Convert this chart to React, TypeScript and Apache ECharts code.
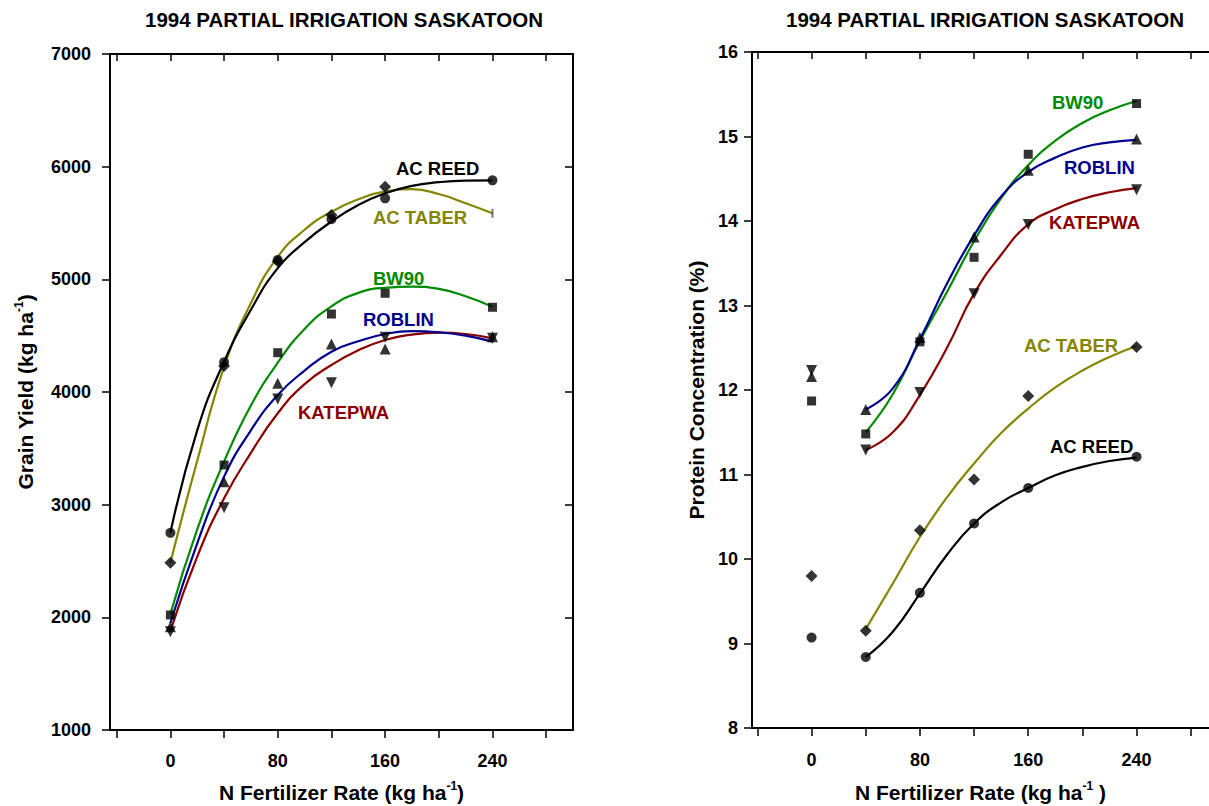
import React, { useEffect, useRef } from "react";
import * as echarts from "echarts";

const FONT = '"Liberation Sans", Arial, Helvetica, sans-serif';

// ---------- data ----------
const rates = [0, 40, 80, 120, 160, 240];
const xTickValues = [-40, 0, 40, 80, 120, 160, 200, 240, 280];
const xLabelValues = [0, 80, 160, 240];

// Grain yield (kg/ha) observed
const yieldReed = [2750, 4265, 5172, 5533, 5719, 5879];
const yieldTaber = [2485, 4231, 5160, 5571, 5822, 5586];
const yieldBW90 = [2021, 3352, 4349, 4692, 4876, 4752];
const yieldRoblin = [1917, 3204, 4077, 4426, 4382, 4490];
const yieldKatepwa = [1873, 2973, 3938, 4083, 4486, 4476];

// Grain yield fitted curves
const fitX = [0, 20, 40, 60, 80, 100, 120, 140, 160, 180, 200, 220, 240];
const fitReedY = [2750, 3660, 4270, 4730, 5100, 5330, 5512, 5660, 5764, 5830, 5862, 5876, 5878];
const fitTaberY = [2485, 3390, 4220, 4790, 5200, 5440, 5600, 5710, 5780, 5800, 5757, 5675, 5586];
const fitBW90Y = [2030, 2780, 3382, 3880, 4260, 4560, 4760, 4880, 4925, 4935, 4915, 4850, 4757];
const fitRoblinY = [1950, 2657, 3249, 3660, 3973, 4190, 4358, 4450, 4515, 4540, 4530, 4500, 4447];
const fitKatepwaY = [1880, 2539, 3056, 3460, 3811, 4070, 4240, 4370, 4462, 4510, 4527, 4515, 4476];

// Protein concentration (%) observed
const protReed = [9.07, 8.84, 9.6, 10.42, 10.84, 11.21];
const protTaber = [9.8, 9.15, 10.34, 10.94, 11.93, 12.51];
const protBW90 = [11.87, 11.48, 12.57, 13.57, 14.79, 15.39];
const protRoblin = [12.16, 11.77, 12.62, 13.81, 14.6, 14.97];
const protKatepwa = [12.23, 11.29, 11.97, 13.14, 13.96, 14.37];

// Protein fitted curves
const pFitX = [40, 60, 80, 100, 120, 140, 160, 180, 200, 220, 240];
const pFitBW90 = [11.5, 11.95, 12.58, 13.16, 13.76, 14.27, 14.66, 14.95, 15.16, 15.31, 15.42];
const pFitRoblin = [11.77, 12.02, 12.6, 13.26, 13.83, 14.29, 14.58, 14.75, 14.87, 14.93, 14.96];
const pFitKatepwa = [11.29, 11.5, 11.94, 12.5, 13.14, 13.6, 13.96, 14.14, 14.26, 14.34, 14.39];
const pFitTaber = [9.17, 9.71, 10.26, 10.73, 11.13, 11.49, 11.78, 12.03, 12.23, 12.39, 12.52];
const pFitReed = [8.84, 9.14, 9.59, 10.05, 10.42, 10.67, 10.84, 10.99, 11.09, 11.16, 11.2];

const yieldTicks = { min: 1000, max: 7000, interval: 1000 };
const proteinTicks = { min: 8, max: 16, interval: 1 };

// ---------- colours ----------
const C_REED = "#000000";
const C_TABER = "#858500";
const C_BW90 = "#008a00";
const C_ROBLIN = "#00008f";
const C_KATEPWA = "#8b0000";

const zip = (xs: number[], ys: number[]) => xs.map((x, i) => [x, ys[i]]);

function App() {
  const ref = useRef<HTMLDivElement>(null);

  useEffect(() => {
    if (!ref.current) return;
    const chart = echarts.init(ref.current, null, { renderer: "svg" });

    const axisLine = { show: true, onZero: false, lineStyle: { color: "#000", width: 2 } };
    const tickStyle = { color: "#000", width: 1.5 };
    const labelStyle = {
      color: "#000",
      fontFamily: FONT,
      fontWeight: "bold" as const,
      fontSize: 18,
      formatter: (v: number) => String(v),
    };
    const rich = {
      t: { fontSize: 21, fontWeight: "bold", fontFamily: FONT, color: "#000", lineHeight: 24 },
      s: { fontSize: 12, fontWeight: "bold", fontFamily: FONT, color: "#000", verticalAlign: "top", lineHeight: 12 },
    };

    const bottomX = (gridIndex: number, min: number, max: number, name: string, gap: number, margin: number) => ({
      type: "value",
      gridIndex,
      position: "bottom",
      min,
      max,
      axisLine,
      splitLine: { show: false },
      axisTick: { show: true, inside: false, length: 8, lineStyle: tickStyle, customValues: xTickValues },
      axisLabel: { show: true, margin, customValues: xLabelValues, ...labelStyle },
      name,
      nameLocation: "middle",
      nameGap: gap,
      nameTextStyle: { rich },
    });
    const topX = (gridIndex: number, min: number, max: number) => ({
      type: "value",
      gridIndex,
      position: "top",
      min,
      max,
      axisLine,
      splitLine: { show: false },
      axisTick: { show: true, inside: true, length: 7, lineStyle: tickStyle, customValues: xTickValues },
      axisLabel: { show: false },
    });

    const lineSeries = (xi: number, yi: number, xs: number[], ys: number[], color: string) => ({
      type: "line",
      xAxisIndex: xi,
      yAxisIndex: yi,
      data: zip(xs, ys),
      smooth: 0.5,
      showSymbol: false,
      symbol: "none",
      lineStyle: { color, width: 2.2 },
      z: 2,
      silent: true,
    });
    const pointSeries = (
      xi: number,
      yi: number,
      ys: number[],
      symbol: string,
      size: number,
      rotate = 0,
      override?: (i: number) => any
    ) => ({
      type: "scatter",
      xAxisIndex: xi,
      yAxisIndex: yi,
      data: rates.map((x, i) => {
        const base: any = { value: [x, ys[i]] };
        return override ? { ...base, ...override(i) } : base;
      }),
      symbol,
      symbolSize: size,
      symbolRotate: rotate,
      itemStyle: { color: "#000" },
      z: 5,
      silent: true,
    });

    const labelText = (x: number, y: number, text: string, color: string) => ({
      type: "text",
      x,
      y,
      z: 100,
      style: {
        text,
        fill: color,
        fontSize: 18.5,
        fontWeight: "bold",
        fontFamily: FONT,
        verticalAlign: "middle",
        align: "left",
      },
    });
    const titleText = (x: number, text: string) => ({
      type: "text",
      x,
      y: 19,
      z: 100,
      style: {
        text,
        fill: "#000",
        fontSize: 20.5,
        fontWeight: "bold",
        fontFamily: FONT,
        verticalAlign: "middle",
        align: "center",
      },
    });

    const option: any = {
      animation: false,
      backgroundColor: "#ffffff",
      grid: [
        { left: 110, top: 54, width: 463, height: 676, containLabel: false, outerBoundsMode: "none" },
        { left: 752, top: 52, width: 457, height: 676, containLabel: false, outerBoundsMode: "none" },
      ],
      xAxis: [
        bottomX(0, -45, 300, "{t|N Fertilizer Rate (kg ha}{s|-1}{t|)}", 50, 22),
        topX(0, -45, 300),
        bottomX(1, -44, 293.5, "{t|N Fertilizer Rate (kg ha}{s|-1}{t| )}", 52, 23),
        topX(1, -44, 293.5),
      ],
      yAxis: [
        {
          type: "value",
          gridIndex: 0,
          position: "left",
          ...yieldTicks,
          axisLine,
          splitLine: { show: false },
          axisTick: { show: true, inside: false, length: 8, lineStyle: tickStyle },
          axisLabel: { show: true, margin: 19, ...labelStyle },
          name: "{t|Grain Yield (kg ha}{s|-1}{t|)}",
          nameLocation: "middle",
          nameRotate: 90,
          nameGap: 73,
          nameTextStyle: { rich },
        },
        {
          type: "value",
          gridIndex: 0,
          position: "right",
          ...yieldTicks,
          axisLine,
          splitLine: { show: false },
          axisTick: { show: true, inside: true, length: 8, lineStyle: tickStyle },
          axisLabel: { show: false },
        },
        {
          type: "value",
          gridIndex: 1,
          position: "left",
          ...proteinTicks,
          axisLine,
          splitLine: { show: false },
          axisTick: { show: true, inside: false, length: 8, lineStyle: tickStyle },
          axisLabel: { show: true, margin: 14, ...labelStyle },
          name: "{t|Protein Concentration (%)}",
          nameLocation: "middle",
          nameRotate: 90,
          nameGap: 44,
          nameTextStyle: { rich },
        },
      ],
      series: [
        // yield curves
        lineSeries(0, 0, fitX, fitTaberY, C_TABER),
        lineSeries(0, 0, fitX, fitReedY, C_REED),
        lineSeries(0, 0, fitX, fitBW90Y, C_BW90),
        lineSeries(0, 0, fitX, fitKatepwaY, C_KATEPWA),
        lineSeries(0, 0, fitX, fitRoblinY, C_ROBLIN),
        // yield points
        pointSeries(0, 0, yieldBW90, "rect", 9),
        pointSeries(0, 0, yieldTaber, "diamond", 12, 0, (i) =>
          i === rates.length - 1 ? { symbol: "rect", symbolSize: [2, 9], itemStyle: { color: "#555" } } : {}
        ),
        pointSeries(0, 0, yieldReed, "circle", 10),
        pointSeries(0, 0, yieldRoblin, "triangle", 11),
        pointSeries(0, 0, yieldKatepwa, "triangle", 11, 180),
        // protein curves
        lineSeries(2, 2, pFitX, pFitReed, C_REED),
        lineSeries(2, 2, pFitX, pFitTaber, C_TABER),
        lineSeries(2, 2, pFitX, pFitKatepwa, C_KATEPWA),
        lineSeries(2, 2, pFitX, pFitBW90, C_BW90),
        lineSeries(2, 2, pFitX, pFitRoblin, C_ROBLIN),
        // protein points
        pointSeries(2, 2, protReed, "circle", 10),
        pointSeries(2, 2, protTaber, "diamond", 12),
        pointSeries(2, 2, protBW90, "rect", 9),
        pointSeries(2, 2, protRoblin, "triangle", 11),
        pointSeries(2, 2, protKatepwa, "triangle", 11, 180),
      ],
      graphic: [
        titleText(344, "1994 PARTIAL IRRIGATION SASKATOON"),
        titleText(985, "1994 PARTIAL IRRIGATION SASKATOON"),
        labelText(396, 168, "AC REED", C_REED),
        labelText(373, 217, "AC TABER", C_TABER),
        labelText(373, 278, "BW90", C_BW90),
        labelText(363, 319, "ROBLIN", C_ROBLIN),
        labelText(298, 412, "KATEPWA", C_KATEPWA),
        labelText(1052, 102, "BW90", C_BW90),
        labelText(1064, 167, "ROBLIN", C_ROBLIN),
        labelText(1049, 222, "KATEPWA", C_KATEPWA),
        labelText(1024, 345, "AC TABER", C_TABER),
        labelText(1050, 446, "AC REED", C_REED),
      ],
    };

    chart.setOption(option);
    return () => chart.dispose();
  }, []);

  return (
    <div
      ref={ref}
      style={{ position: "absolute", left: 0, top: 0, width: 1209, height: 806, background: "#fff" }}
    />
  );
}

export default App;
